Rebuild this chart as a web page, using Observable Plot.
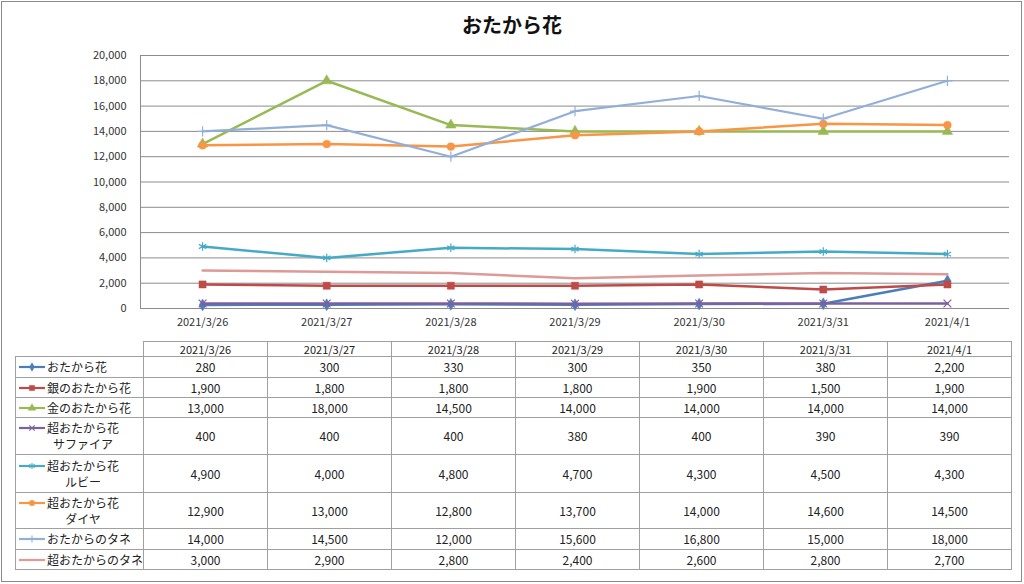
<!DOCTYPE html>
<html><head><meta charset="utf-8">
<script src="https://cdn.jsdelivr.net/npm/d3@7"></script>
<script src="https://cdn.jsdelivr.net/npm/@observablehq/plot@0.6"></script>
<style>
body{margin:0;background:#fff;font-family:"Noto Sans CJK JP","Noto Sans",sans-serif;}
#wrap{position:relative;width:1024px;height:584px;overflow:hidden;background:#fff}
#frame{position:absolute;left:1px;top:1px;width:1019px;height:579px;border:1px solid #8a8a8a;box-sizing:content-box}
#title{position:absolute;top:10px;left:0;width:1024px;text-align:center;font-size:20px;font-weight:bold;color:#111;line-height:29px}
#chart{position:absolute;left:0;top:0}
#tbl{position:absolute;left:15px;top:341px;border-collapse:collapse;font-size:12px;color:#222;table-layout:fixed}
#tbl td{border:1px solid #a0a0a0;padding:0;text-align:center;line-height:16px;}
#tbl td.blank{border-top:none;border-left:none}
#tbl td.lab{text-align:left;}
.labwrap{display:flex;align-items:flex-start;padding-left:2px}
.labwrap svg{flex:none}
.labtxt{text-align:center;white-space:nowrap}
</style>
</head><body>
<div id="wrap">
  <div id="frame"></div>
  <div id="title"></div>
  <div id="chart"></div>
  <table id="tbl"></table>
</div>
<script>
const chartTitle = "おたから花";
const dates = ["2021/3/26","2021/3/27","2021/3/28","2021/3/29","2021/3/30","2021/3/31","2021/4/1"];
const seriesNames = ["おたから花","銀のおたから花","金のおたから花","超おたから花 サファイア","超おたから花 ルビー","超おたから花 ダイヤ","おたからのタネ","超おたからのタネ"];
const otakaraHana   = [280, 300, 330, 300, 350, 380, 2200];
const ginHana       = [1900, 1800, 1800, 1800, 1900, 1500, 1900];
const kinHana       = [13000, 18000, 14500, 14000, 14000, 14000, 14000];
const superSapphire = [400, 400, 400, 380, 400, 390, 390];
const superRuby     = [4900, 4000, 4800, 4700, 4300, 4500, 4300];
const superDiamond  = [12900, 13000, 12800, 13700, 14000, 14600, 14500];
const otakaraTane   = [14000, 14500, 12000, 15600, 16800, 15000, 18000];
const superTane     = [3000, 2900, 2800, 2400, 2600, 2800, 2700];
const yTicks = [0, 2000, 4000, 6000, 8000, 10000, 12000, 14000, 16000, 18000, 20000];

const seriesValues = [otakaraHana, ginHana, kinHana, superSapphire, superRuby, superDiamond, otakaraTane, superTane];
// styles
const seriesColors = ["#4a7ebb","#be4b48","#98b954","#7d60a0","#46aac5","#f79646","#93afd8","#dc9a98"];
const seriesSymbols = ["diamond","square","triangle","times","asterisk","circle","plus",null];
const symbolFilled = [true,true,true,false,false,true,false,false];
const symbolR = [3.6,4.0,3.9,3.6,4.0,3.9,3.4,0];
const lineWidths = [2.5,2.5,2.5,2.5,2.5,2.5,2.2,2.5];

document.getElementById("title").textContent = chartTitle;

const fmt = d3.format(",");
const marks = [
  Plot.gridY(yTicks, {stroke:"#8c8c8c", strokeOpacity:1, strokeWidth:1}),
  Plot.ruleX([-0.5], {stroke:"#8c8c8c", strokeWidth:1}),
  Plot.axisY({ticks: yTicks, tickFormat: fmt, tickSize:0, tickPadding:14, label:null, fontSize:11, fill:"#333"}),
  Plot.axisX({ticks: d3.range(dates.length), tickFormat: i => dates[i], tickSize:0, tickPadding:10, label:null, fontSize:11, fill:"#333"})
];
seriesValues.forEach((vals, k) => {
  marks.push(Plot.line(vals, {x:(d,i)=>i, y:d=>d, stroke:seriesColors[k], strokeWidth:lineWidths[k], strokeLinejoin:"round"}));
  if (seriesSymbols[k]) {
    marks.push(Plot.dot(vals, {x:(d,i)=>i, y:d=>d, symbol:seriesSymbols[k], r:symbolR[k],
      fill: symbolFilled[k] ? seriesColors[k] : "none",
      stroke: seriesColors[k], strokeWidth: symbolFilled[k] ? 0.5 : 1.2}));
  }
});

const chart = Plot.plot({
  width:1024, height:340,
  marginTop:55, marginBottom:32, marginLeft:140, marginRight:15,
  style:{fontFamily:'"Noto Sans CJK JP","Noto Sans",sans-serif', fontSize:"11px", background:"transparent", color:"#333"},
  x:{type:"linear", domain:[-0.5, dates.length - 0.5]},
  y:{type:"linear", domain:[0, 20000]},
  marks
});
document.getElementById("chart").appendChild(chart);

// data table
const symMap = {diamond:d3.symbolDiamond, square:d3.symbolSquare, triangle:d3.symbolTriangle, times:d3.symbolTimes, asterisk:d3.symbolAsterisk, circle:d3.symbolCircle, plus:d3.symbolPlus};
const tbl = document.getElementById("tbl");
const colg = document.createElement("colgroup");
[125, ...dates.map(()=>124)].forEach(w => { const c = document.createElement("col"); c.style.width = w + "px"; colg.appendChild(c); });
tbl.appendChild(colg);
const hdr = tbl.insertRow();
hdr.style.height = "15px";
const blank = hdr.insertCell(); blank.className = "blank";
dates.forEach(d => { const c = hdr.insertCell(); c.textContent = d; c.style.fontSize = "11px"; c.style.lineHeight = "14px"; });
const rowHeights = [21,20,20,37,38,36,21,20];
seriesNames.forEach((name, k) => {
  const r = tbl.insertRow();
  r.style.height = rowHeights[k] + "px";
  const lc = r.insertCell(); lc.className = "lab";
  const wrap = document.createElement("div"); wrap.className = "labwrap";
  const svg = d3.create("svg").attr("width", 29).attr("height", 16);
  svg.append("line").attr("x1",1).attr("x2",27).attr("y1",8).attr("y2",8).attr("stroke",seriesColors[k]).attr("stroke-width",2.2);
  if (seriesSymbols[k]) {
    const rk = symbolR[k] * 0.72;
    svg.append("path").attr("transform","translate(14,8)")
      .attr("d", d3.symbol(symMap[seriesSymbols[k]], Math.PI*rk*rk)())
      .attr("fill", symbolFilled[k] ? seriesColors[k] : "none")
      .attr("stroke", seriesColors[k]).attr("stroke-width", symbolFilled[k] ? 0.5 : 1.1);
  }
  wrap.appendChild(svg.node());
  const t = document.createElement("div"); t.className = "labtxt";
  t.innerHTML = name.split(" ").join("<br>");
  wrap.appendChild(t);
  lc.appendChild(wrap);
  seriesValues[k].forEach(v => { const c = r.insertCell(); c.textContent = fmt(v); });
});
</script>
</body></html>
